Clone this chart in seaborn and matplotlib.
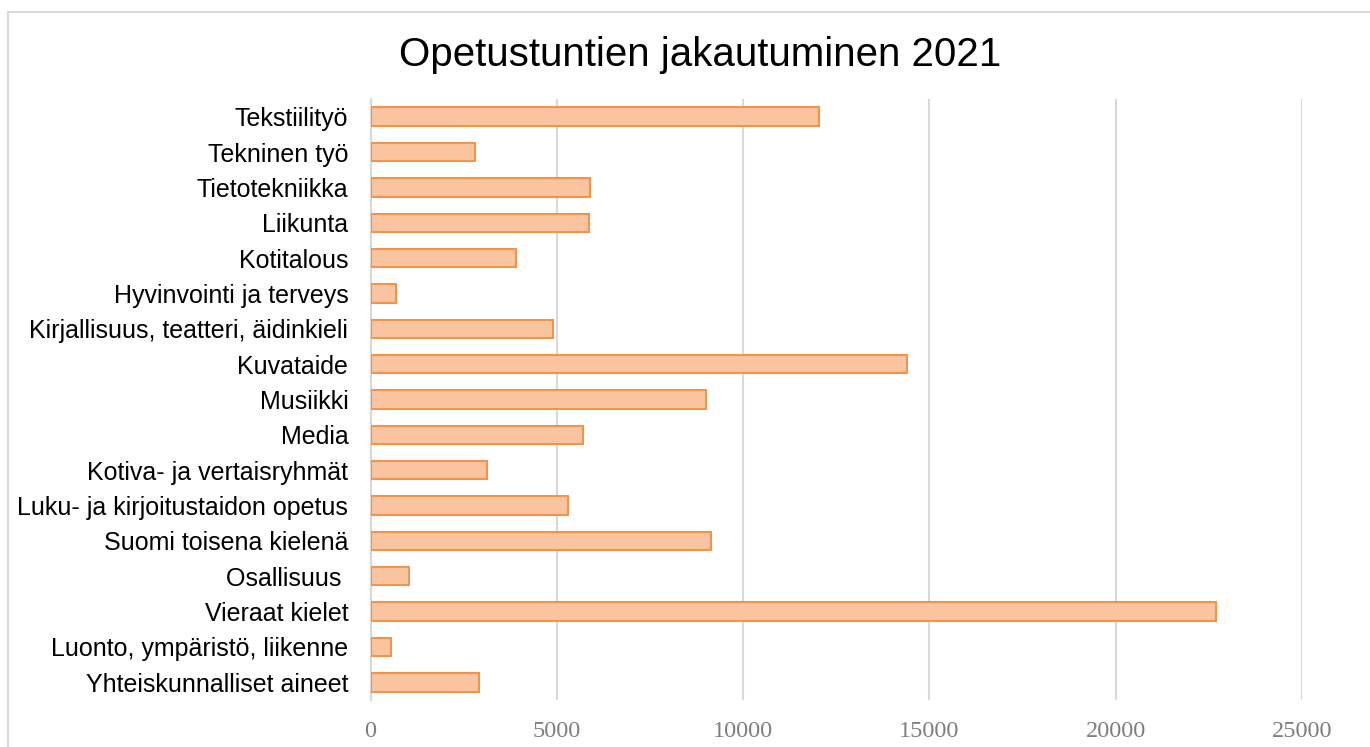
import matplotlib
matplotlib.use("Agg")
import matplotlib.pyplot as plt
import seaborn as sns
import pandas as pd
from matplotlib.patches import Rectangle

categories = [
    "Tekstiilityö", "Tekninen työ", "Tietotekniikka", "Liikunta", "Kotitalous",
    "Hyvinvointi ja terveys", "Kirjallisuus, teatteri, äidinkieli", "Kuvataide",
    "Musiikki", "Media", "Kotiva- ja vertaisryhmät",
    "Luku- ja kirjoitustaidon opetus", "Suomi toisena kielenä", "Osallisuus ",
    "Vieraat kielet", "Luonto, ympäristö, liikenne", "Yhteiskunnalliset aineet",
]
hours = [12050, 2800, 5900, 5860, 3900, 680, 4900, 14400, 9000, 5700, 3120,
         5300, 9150, 1030, 22700, 550, 2900]
xticks = [0, 5000, 10000, 15000, 20000, 25000]
title = "Opetustuntien jakautuminen 2021"

df = pd.DataFrame({"cat": categories, "val": hours})

sns.set_theme(style="white")
plt.rcParams["font.family"] = ["Liberation Sans", "DejaVu Sans"]

W, H = 1370, 747
fig = plt.figure(figsize=(W / 100, H / 100), dpi=100)
ax = fig.add_axes([370.5 / W, 1 - 700 / H, (1302 - 370.5) / W, (700 - 99) / H])

sns.barplot(data=df, x="val", y="cat", orient="h", ax=ax, color="#FBC4A0",
            saturation=1, edgecolor="#F29449", linewidth=1.5, width=0.52,
            zorder=3)

ax.set_xlim(0, 25000)
ax.set_xticks(xticks)
ax.set_xticklabels([str(t) for t in xticks], family="Liberation Serif",
                   fontsize=17.5, color="#7F7F7F")
ax.tick_params(axis="x", length=0, pad=15)
ax.tick_params(axis="y", length=0, pad=16, labelsize=18, labelcolor="black")
ax.set_xlabel("")
ax.set_ylabel("")
ax.grid(axis="x", color="#D9D9D9", linewidth=1.5, zorder=0)
ax.grid(axis="y", visible=False)
for s in ["top", "right", "bottom"]:
    ax.spines[s].set_visible(False)
ax.spines["left"].set_color("#D9D9D9")
ax.spines["left"].set_linewidth(1.5)

fig.text(700 / W, 1 - 55 / H, title, ha="center", va="center", fontsize=29,
         color="black")

fig.patches.append(Rectangle((8 / W, -0.1), 2, 1 - 12 / H + 0.1,
                             transform=fig.transFigure, fill=False,
                             edgecolor="#D9D9D9", linewidth=1.5))

fig.savefig("out.png", dpi=100, facecolor="white")
